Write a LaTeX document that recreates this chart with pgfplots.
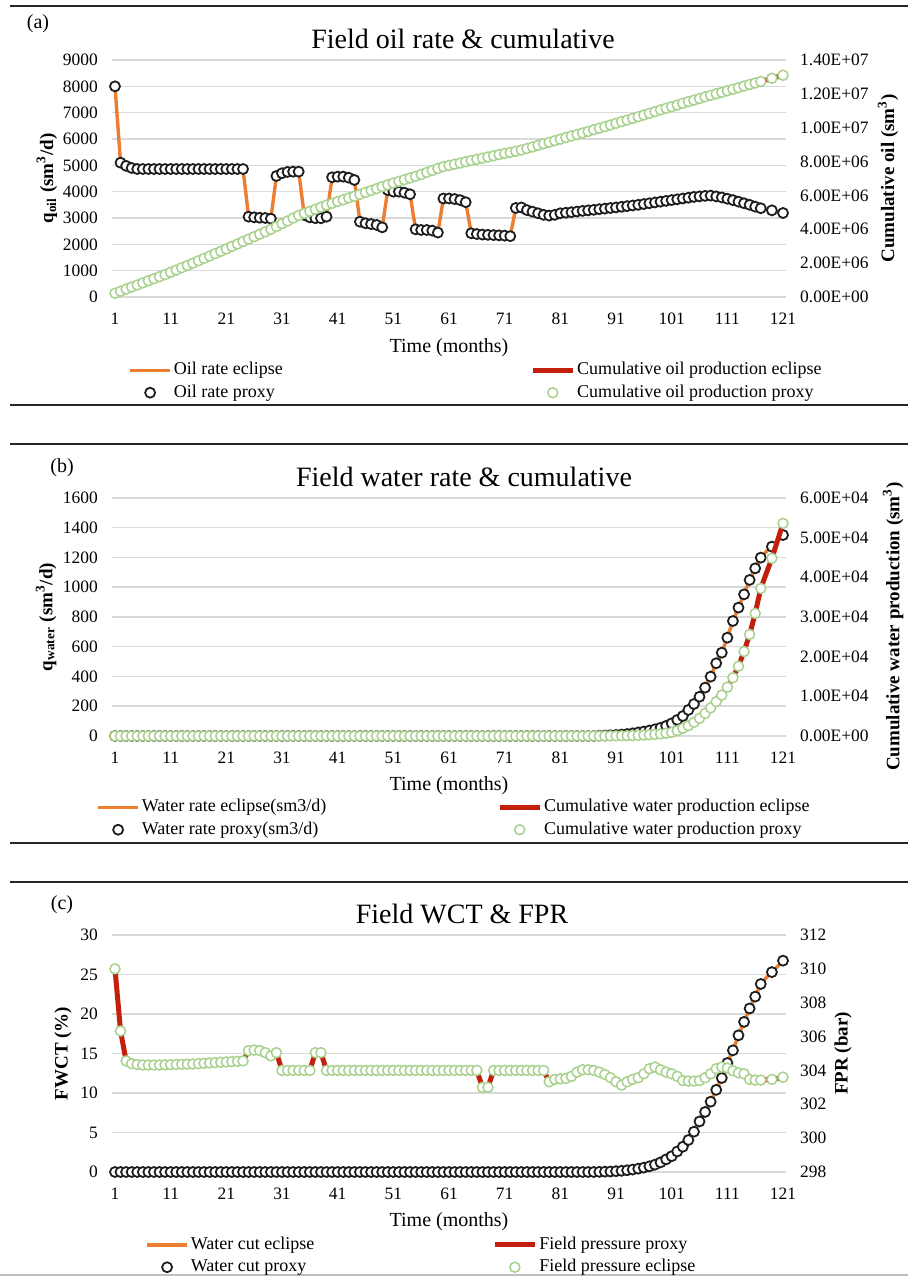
\documentclass[border=0pt]{standalone}
\usepackage{pgfplots}
\pgfplotsset{compat=1.18}
\usepackage{pgfplotstable}
\usepackage{fontspec}
\setmainfont{Liberation Serif}
\definecolor{xlorange}{RGB}{237,125,49}
\definecolor{xlred}{RGB}{196,30,12}
\definecolor{xlgreen}{RGB}{169,209,142}
\definecolor{xlgrid}{RGB}{217,217,217}
\definecolor{xlblack}{RGB}{30,30,30}

% Panel (a): month, oil rate (sm3/d), cumulative oil (1e6 sm3)
\pgfplotstableread[row sep=\\]{
m r c\\
1 8000 0.22\\ 2 5100 0.34\\ 3 4980 0.47\\ 4 4900 0.59\\ 5 4860 0.71\\
6 4860 0.83\\ 7 4860 0.96\\ 8 4860 1.08\\ 9 4860 1.20\\ 10 4860 1.32\\
11 4860 1.46\\ 12 4860 1.59\\ 13 4860 1.73\\ 14 4860 1.86\\ 15 4860 2.00\\
16 4860 2.14\\ 17 4860 2.28\\ 18 4860 2.42\\ 19 4860 2.56\\ 20 4860 2.70\\
21 4860 2.84\\ 22 4860 2.99\\ 23 4860 3.13\\ 24 4860 3.28\\ 25 3050 3.42\\
26 3025 3.56\\ 27 3010 3.71\\ 28 3000 3.85\\ 29 2975 4.00\\ 30 4595 4.16\\
31 4700 4.33\\ 32 4750 4.49\\ 33 4760 4.66\\ 34 4760 4.82\\ 35 3110 4.94\\
36 3025 5.06\\ 37 2990 5.18\\ 38 2990 5.31\\ 39 3050 5.43\\ 40 4545 5.53\\
41 4570 5.64\\ 42 4570 5.74\\ 43 4530 5.85\\ 44 4445 5.95\\ 45 2860 6.06\\
46 2800 6.18\\ 47 2770 6.29\\ 48 2735 6.40\\ 49 2645 6.52\\ 50 4060 6.63\\
51 4000 6.73\\ 52 4000 6.83\\ 53 3960 6.93\\ 54 3900 7.03\\ 55 2570 7.13\\
56 2545 7.24\\ 57 2545 7.36\\ 58 2520 7.47\\ 59 2445 7.59\\ 60 3740 7.70\\
61 3740 7.77\\ 62 3720 7.84\\ 63 3680 7.91\\ 64 3600 7.99\\ 65 2420 8.06\\
66 2390 8.13\\ 67 2370 8.20\\ 68 2360 8.27\\ 69 2350 8.34\\ 70 2340 8.41\\
71 2330 8.48\\ 72 2310 8.54\\ 73 3380 8.61\\ 74 3400 8.68\\ 75 3300 8.77\\
76 3240 8.86\\ 77 3180 8.96\\ 78 3120 9.05\\ 79 3090 9.14\\ 80 3120 9.23\\
81 3180 9.32\\ 82 3200 9.42\\ 83 3220 9.51\\ 84 3245 9.60\\ 85 3270 9.69\\
86 3290 9.78\\ 87 3310 9.88\\ 88 3335 9.97\\ 89 3355 10.06\\ 90 3380 10.16\\
91 3400 10.26\\ 92 3425 10.36\\ 93 3450 10.45\\ 94 3475 10.55\\ 95 3500 10.65\\
96 3530 10.75\\ 97 3560 10.85\\ 98 3590 10.95\\ 99 3620 11.05\\ 100 3650 11.15\\
101 3680 11.24\\ 102 3710 11.34\\ 103 3740 11.44\\ 104 3770 11.54\\ 105 3800 11.63\\
106 3820 11.72\\ 107 3840 11.82\\ 108 3850 11.91\\ 109 3820 12.00\\ 110 3780 12.09\\
111 3730 12.18\\ 112 3680 12.27\\ 113 3620 12.36\\ 114 3560 12.46\\ 115 3500 12.55\\
116 3430 12.64\\ 117 3370 12.73\\ 118 3330 12.82\\ 119 3290 12.92\\ 120 3240 13.01\\
121 3190 13.10\\
}\tabA

% Panel (b): month, water rate (sm3/d), cumulative water (1e3 sm3)
\pgfplotstableread[row sep=\\]{
m r c\\
1 0 0\\ 2 0 0\\ 3 0 0\\ 4 0 0\\ 5 0 0\\ 6 0 0\\ 7 0 0\\ 8 0 0\\ 9 0 0\\ 10 0 0\\
11 0 0\\ 12 0 0\\ 13 0 0\\ 14 0 0\\ 15 0 0\\ 16 0 0\\ 17 0 0\\ 18 0 0\\ 19 0 0\\ 20 0 0\\
21 0 0\\ 22 0 0\\ 23 0 0\\ 24 0 0\\ 25 0 0\\ 26 0 0\\ 27 0 0\\ 28 0 0\\ 29 0 0\\ 30 0 0\\
31 0 0\\ 32 0 0\\ 33 0 0\\ 34 0 0\\ 35 0 0\\ 36 0 0\\ 37 0 0\\ 38 0 0\\ 39 0 0\\ 40 0 0\\
41 0 0\\ 42 0 0\\ 43 0 0\\ 44 0 0\\ 45 0 0\\ 46 0 0\\ 47 0 0\\ 48 0 0\\ 49 0 0\\ 50 0 0\\
51 0 0\\ 52 0 0\\ 53 0 0\\ 54 0 0\\ 55 0 0\\ 56 0 0\\ 57 0 0\\ 58 0 0\\ 59 0 0\\ 60 0 0\\
61 0 0\\ 62 0 0\\ 63 0 0\\ 64 0 0\\ 65 0 0\\ 66 0 0\\ 67 0 0\\ 68 0 0\\ 69 0 0\\ 70 0 0\\
71 0 0\\ 72 0 0\\ 73 0 0\\ 74 0 0\\ 75 0 0\\ 76 0 0\\ 77 0 0\\ 78 0 0\\ 79 0 0\\ 80 0 0\\
81 0 0\\ 82 0 0\\ 83 0 0\\ 84 0 0\\ 85 0 0\\ 86 0 0\\ 87 0 0\\ 88 2 0\\ 89 3 0\\ 90 5 0.02\\
91 7 0.03\\ 92 10 0.05\\ 93 13 0.08\\ 94 18 0.11\\ 95 24 0.16\\ 96 30 0.22\\ 97 37 0.30\\
98 45 0.40\\ 99 55 0.52\\ 100 68 0.70\\ 101 85 0.92\\ 102 108 1.34\\ 103 134 1.93\\
104 175 2.60\\ 105 215 3.45\\ 106 264 4.45\\ 107 325 5.70\\ 108 399 7.10\\ 109 489 8.65\\
110 560 10.3\\ 111 661 12.3\\ 112 773 14.7\\ 113 863 17.6\\ 114 952 21.3\\ 115 1049 25.6\\
116 1127 30.9\\ 117 1199 37.2\\ 118 1240 41.0\\ 119 1273 44.8\\ 120 1310 49.2\\ 121 1351 53.6\\
}\tabB

% Panel (c): month, water cut (%), field pressure (bar)
\pgfplotstableread[row sep=\\]{
m w p\\
1 0 310.00\\ 2 0 306.33\\ 3 0 304.56\\ 4 0 304.40\\ 5 0 304.35\\ 6 0 304.32\\ 7 0 304.32\\
8 0 304.32\\ 9 0 304.32\\ 10 0 304.33\\ 11 0 304.34\\ 12 0 304.35\\ 13 0 304.36\\ 14 0 304.37\\
15 0 304.38\\ 16 0 304.40\\ 17 0 304.42\\ 18 0 304.44\\ 19 0 304.46\\ 20 0 304.48\\ 21 0 304.50\\
22 0 304.52\\ 23 0 304.54\\ 24 0 304.56\\ 25 0 305.17\\ 26 0 305.20\\ 27 0 305.17\\ 28 0 305.05\\
29 0 304.86\\ 30 0 305.05\\ 31 0 304.00\\ 32 0 304.00\\ 33 0 304.00\\ 34 0 304.00\\ 35 0 304.00\\
36 0 304.00\\ 37 0 305.05\\ 38 0 305.05\\ 39 0 304.00\\ 40 0 304.00\\ 41 0 304.00\\ 42 0 304.00\\
43 0 304.00\\ 44 0 304.00\\ 45 0 304.00\\ 46 0 304.00\\ 47 0 304.00\\ 48 0 304.00\\ 49 0 304.00\\
50 0 304.00\\ 51 0 304.00\\ 52 0 304.00\\ 53 0 304.00\\ 54 0 304.00\\ 55 0 304.00\\ 56 0 304.00\\
57 0 304.00\\ 58 0 304.00\\ 59 0 304.00\\ 60 0 304.00\\ 61 0 304.00\\ 62 0 304.00\\ 63 0 304.00\\
64 0 304.00\\ 65 0 304.00\\ 66 0 304.00\\ 67 0 303.00\\ 68 0 303.00\\ 69 0 304.00\\ 70 0 304.00\\
71 0 304.00\\ 72 0 304.00\\ 73 0 304.00\\ 74 0 304.00\\ 75 0 304.00\\ 76 0 304.00\\ 77 0 304.00\\
78 0 304.00\\ 79 0 303.33\\ 80 0 303.47\\ 81 0 303.50\\ 82 0 303.53\\ 83 0 303.65\\ 84 0 303.90\\
85 0 304.04\\ 86 0 304.04\\ 87 0 304.00\\ 88 0.02 303.90\\ 89 0.04 303.76\\ 90 0.06 303.57\\
91 0.10 303.33\\ 92 0.15 303.13\\ 93 0.22 303.33\\ 94 0.31 303.47\\ 95 0.42 303.57\\ 96 0.55 303.80\\
97 0.72 304.10\\ 98 0.93 304.20\\ 99 1.22 304.04\\ 100 1.60 303.90\\ 101 2.00 303.80\\ 102 2.60 303.65\\
103 3.20 303.40\\ 104 4.05 303.37\\ 105 5.10 303.37\\ 106 6.40 303.40\\ 107 7.60 303.57\\ 108 8.90 303.80\\
109 10.4 304.10\\ 110 11.9 304.20\\ 111 13.8 304.14\\ 112 15.4 303.98\\ 113 17.3 303.86\\ 114 19.0 303.80\\
115 20.7 303.47\\ 116 22.2 303.43\\ 117 23.8 303.43\\ 118 24.6 303.45\\ 119 25.3 303.47\\ 120 26.0 303.53\\
121 26.75 303.60\\
}\tabC

\pgfplotsset{
  common/.style={
    scale only axis, width=336.8pt, xmin=0.5, xmax=121.5, clip=false,
    axis line style={draw=none}, major tick length=0pt,
    /pgf/number format/assume math mode=true,
    /pgf/number format/1000 sep={}, scaled ticks=false,
    tick label style={font=\fontsize{8.7}{10}\selectfont},
    xlabel style={font=\fontsize{10}{12}\selectfont},
    ylabel style={font=\fontsize{9.5}{11}\selectfont\bfseries},
    every axis title shift=0pt,
    title style={font=\fontsize{14}{16}\selectfont, anchor=center},
    legend style={draw=none, fill=none, inner sep=0pt, anchor=west,
      font=\fontsize{9}{10}\selectfont, row sep=1.5pt, nodes={inner sep=1pt}},
    legend cell align=left,
    legend image code/.code={\draw[mark repeat=2,mark phase=2,##1] plot coordinates {(0pt,0pt) (10pt,0pt) (20pt,0pt)};},
  },
  leftax/.style={common, ymajorgrids, grid style={xlgrid, line width=0.75pt},
    xtick={1,11,...,121}, xticklabel style={anchor=center, yshift=-11pt},
    yticklabel style={anchor=east, inner sep=0pt, xshift=-7pt},
    xlabel={Time (months)}, xlabel style={at={(axis description cs:0.5,-0.213)}, anchor=center}},
  rightax/.style={common, axis x line=none, axis y line*=right,
    yticklabel style={anchor=west, inner sep=0pt, xshift=7pt}},
  eline/.style={xlorange, line width=1.7pt},
  cline/.style={xlred, line width=2.5pt},
  bmark/.style={only marks, mark=*, mark size=2.5pt,
    mark options={fill=white, draw=xlblack, line width=0.9pt},
    skip coords between index={117}{118}, skip coords between index={119}{120}},
  gmark/.style={only marks, mark=*, mark size=2.5pt,
    mark options={fill=white, draw=xlgreen, line width=0.75pt},
    skip coords between index={117}{118}, skip coords between index={119}{120}},
}

\begin{document}
\begin{tikzpicture}
% separators
\draw[black!85, line width=1.1pt] (5pt,635.5pt) -- (454pt,635.5pt);
\draw[black!85, line width=1.1pt] (5pt,436pt) -- (454pt,436pt);
\draw[black!85, line width=1.1pt] (5pt,416.5pt) -- (454pt,416.5pt);
\draw[black!85, line width=1.1pt] (5pt,217pt) -- (454pt,217pt);
\draw[black!85, line width=1.1pt] (5pt,197.5pt) -- (454pt,197.5pt);
\draw[black!25, line width=0.6pt] (0pt,1pt) -- (454pt,1pt);

% ---------------- Panel (a)
\begin{axis}[leftax, height=118.5pt, at={(56.1pt,490pt)}, anchor=south west,
  ymin=0, ymax=9000, ytick={0,1000,...,9000},
  ylabel={q\textsubscript{oil} (sm\textsuperscript{3}/d)},
  ylabel style={at={(axis description cs:-0.097,0.5)}, anchor=center},
  title={Field oil rate \& cumulative}, title style={at={(axis description cs:0.5208,1.0886)}},
  legend style={at={(axis description cs:0.0235,-0.3565)}}]
\addplot[eline] table[x=m,y=r]{\tabA}; \addlegendentry{Oil rate eclipse}
\addplot[bmark] table[x=m,y=r]{\tabA}; \addlegendentry{Oil rate proxy}
\end{axis}
\begin{axis}[rightax, height=118.5pt, at={(56.1pt,490pt)}, anchor=south west,
  ymin=0, ymax=14, ytick={0,2,...,14},
  yticklabels={0.00E+00,2.00E+06,4.00E+06,6.00E+06,8.00E+06,1.00E+07,1.20E+07,1.40E+07},
  ylabel={Cumulative oil (sm\textsuperscript{3})},
  ylabel style={at={(axis description cs:1.1517,0.5)}, anchor=center, rotate=0},
  legend style={at={(axis description cs:0.620,-0.3565)}}]
\addplot[cline] table[x=m,y=c]{\tabA}; \addlegendentry{Cumulative oil production eclipse}
\addplot[gmark] table[x=m,y=c]{\tabA}; \addlegendentry{Cumulative oil production proxy}
\end{axis}

% ---------------- Panel (b)
\begin{axis}[leftax, height=119pt, at={(56.1pt,270.5pt)}, anchor=south west,
  ymin=0, ymax=1600, ytick={0,200,...,1600},
  ylabel={q\textsubscript{water} (sm\textsuperscript{3}/d)},
  ylabel style={at={(axis description cs:-0.098,0.5)}, anchor=center},
  title={Field water rate \& cumulative}, title style={at={(axis description cs:0.5222,1.0882)}},
  xlabel style={at={(axis description cs:0.5,-0.21)}},
  legend style={at={(axis description cs:-0.024,-0.3466)}}]
\addplot[eline] table[x=m,y=r]{\tabB}; \addlegendentry{Water rate eclipse(sm3/d)}
\addplot[bmark] table[x=m,y=r]{\tabB}; \addlegendentry{Water rate proxy(sm3/d)}
\end{axis}
\begin{axis}[rightax, height=119pt, at={(56.1pt,270.5pt)}, anchor=south west,
  ymin=0, ymax=60, ytick={0,10,...,60},
  yticklabels={0.00E+00,1.00E+04,2.00E+04,3.00E+04,4.00E+04,5.00E+04,6.00E+04},
  ylabel={Cumulative water production (sm\textsuperscript{3})},
  ylabel style={at={(axis description cs:1.1592,0.46)}, anchor=center, rotate=0},
  legend style={at={(axis description cs:0.571,-0.3466)}}]
\addplot[cline] table[x=m,y=c]{\tabB}; \addlegendentry{Cumulative water production eclipse}
\addplot[gmark] table[x=m,y=c]{\tabB}; \addlegendentry{Cumulative water production proxy}
\end{axis}

% ---------------- Panel (c)
\begin{axis}[leftax, height=118.5pt, at={(56.1pt,52.5pt)}, anchor=south west,
  ymin=0, ymax=30, ytick={0,5,...,30},
  ylabel={FWCT (\%)},
  ylabel style={at={(axis description cs:-0.073,0.5)}, anchor=center},
  title={Field WCT \& FPR}, title style={at={(axis description cs:0.5193,1.0886)}},
  xlabel style={at={(axis description cs:0.5,-0.211)}},
  legend style={at={(axis description cs:0.0487,-0.3544)}}]
\addplot[eline] table[x=m,y=w]{\tabC}; \addlegendentry{Water cut eclipse}
\addplot[bmark] table[x=m,y=w]{\tabC}; \addlegendentry{Water cut proxy}
\end{axis}
\begin{axis}[rightax, height=118.5pt, at={(56.1pt,52.5pt)}, anchor=south west,
  ymin=298, ymax=312, ytick={298,300,...,312},
  ylabel={FPR (bar)},
  ylabel style={at={(axis description cs:1.0849,0.5)}, anchor=center, rotate=0},
  legend style={at={(axis description cs:0.5638,-0.3544)}}]
\addplot[cline] table[x=m,y=p]{\tabC}; \addlegendentry{Field pressure proxy}
\addplot[gmark] table[x=m,y=p]{\tabC}; \addlegendentry{Field pressure eclipse}
\end{axis}

\node[font=\fontsize{10}{12}\selectfont] at (19pt,626.5pt) {(a)};
\node[font=\fontsize{10}{12}\selectfont] at (31pt,404.5pt) {(b)};
\node[font=\fontsize{10}{12}\selectfont] at (31pt,186pt) {(c)};

\pgfresetboundingbox
\useasboundingbox (0,0) rectangle (454pt,638.5pt);
\end{tikzpicture}
\end{document}
